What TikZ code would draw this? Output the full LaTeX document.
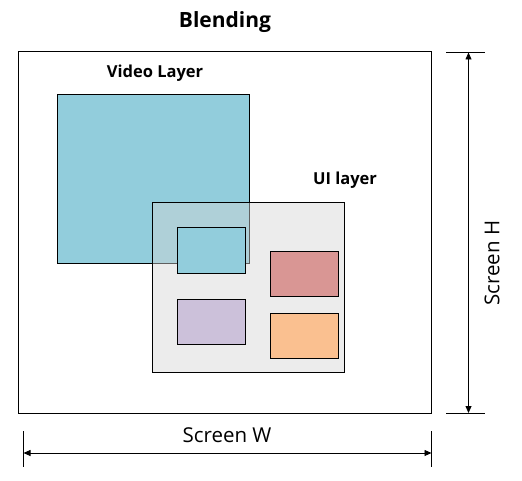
\documentclass[tikz,border=0pt]{standalone}
\usepackage{fontspec}
\setmainfont{Open Sans}
\usetikzlibrary{arrows.meta}
\definecolor{vid}{HTML}{92CDDC}
\definecolor{uibg}{HTML}{D4D4D4}
\definecolor{redb}{HTML}{D99694}
\definecolor{purb}{HTML}{CCC1DA}
\definecolor{orab}{HTML}{FAC090}
\tikzset{
  box/.style={draw=black, line width=1pt},
  lbl/.style={font=\bfseries\fontsize{16.5}{18}\selectfont, inner sep=0pt},
  dim/.style={line width=0.8pt, {Triangle[length=7pt,width=6pt]}-{Triangle[length=7pt,width=6pt]}},
  tick/.style={line width=0.8pt},
}
\begin{document}
\begin{tikzpicture}[x=1pt,y=-1pt]
\useasboundingbox (0,0) rectangle (522,481);
% screen
\draw[box] (18,52) rectangle (431,413);
% title
\node[inner sep=0pt, font=\bfseries\fontsize{21}{24}\selectfont] (title) at (225,22) {Blending};
% video layer
\draw[box, fill=vid] (57,95) rectangle (249,263);
\node[lbl] (vlbl) at (155,73) {Video Layer};
% UI layer
\fill[uibg, opacity=0.45] (152,203) rectangle (344,372);
\draw[box] (152,203) rectangle (344,372);
\node[lbl] (ulbl) at (345,180) {UI layer};
% inner boxes
\draw[box, fill=vid] (177,228) rectangle (245,273);
\draw[box, fill=redb] (270,251) rectangle (338,296);
\draw[box, fill=purb] (177,299) rectangle (245,344);
\draw[box, fill=orab] (270,313) rectangle (338,358);
% width dimension
\coordinate (wl) at (23.5,453);
\coordinate (wr) at (431.5,453);
\draw[tick] (23.5,431) -- (23.5,467);
\draw[tick] (431.5,431) -- (431.5,467);
\draw[dim] (wl) -- (wr);
\node[inner sep=0pt, font=\fontsize{20.5}{24}\selectfont] (wlbl) at (227,435) {Screen W};
% height dimension
\coordinate (ht) at (468.5,52.5);
\coordinate (hb) at (468.5,413);
\draw[tick] (446,52.5) -- (485,52.5);
\draw[tick] (446,413) -- (485,413);
\draw[dim] (ht) -- (hb);
\node[inner sep=0pt, rotate=90, font=\fontsize{20.5}{24}\selectfont] (hlbl) at (492,263) {Screen H};
\end{tikzpicture}
\end{document}
